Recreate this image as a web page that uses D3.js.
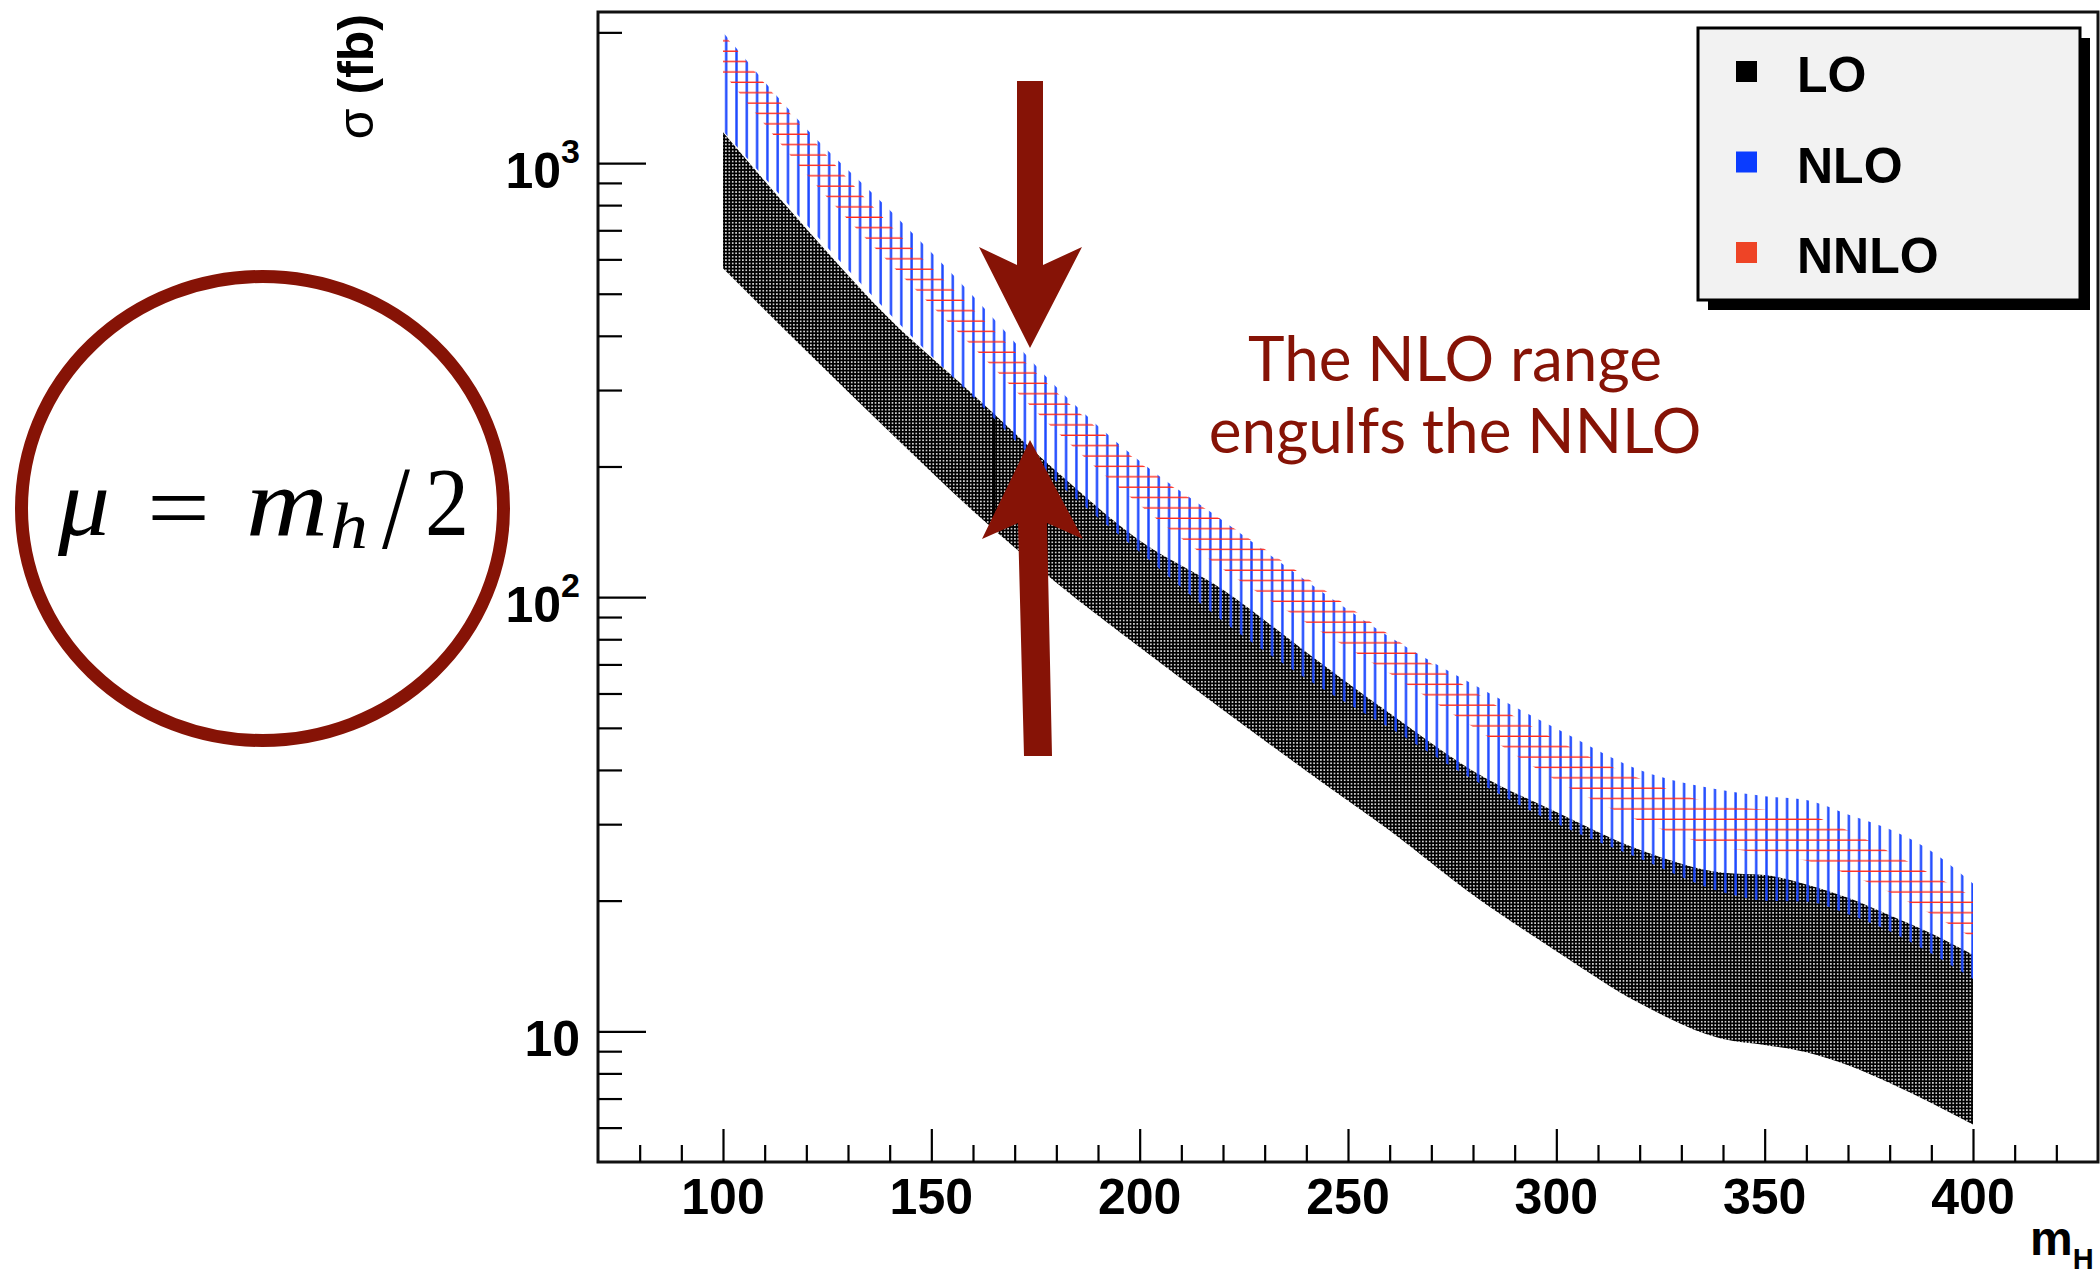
<!DOCTYPE html>
<html>
<head>
<meta charset="utf-8">
<script src="https://cdn.jsdelivr.net/npm/d3@7"></script>
<style>
  body { margin: 0; background: #fff; }
  svg { display: block; }
</style>
</head>
<body>
<div id="chart"></div>
<script>
const massH = [100, 120, 140, 160, 180, 200, 220, 240, 260, 280, 300, 320, 340, 350, 360, 370, 380, 390, 400];

// cross-section bands, sigma in fb
const loHigh   = [1177, 706, 437, 293, 195, 135, 104, 74.7, 54, 39.8, 32, 26.2, 23.2, 22.9, 21.8, 20.3, 18.5, 16.8, 15.0];
const loLow    = [572, 369, 240, 158, 108, 76.7, 55, 39.8, 29.0, 20.6, 15.3, 11.6, 9.6, 9.3, 8.95, 8.35, 7.6, 6.84, 6.1];
const nloHigh  = [2000, 1200, 780, 494, 305, 206, 150, 109, 81, 63, 49.8, 40, 35.9, 34.8, 34.1, 31.6, 29.2, 26, 21.9];
const nloLow   = [1185, 722, 449, 289, 185, 127, 88, 64.9, 50, 38, 30.1, 25, 20.9, 20, 19.9, 18.6, 17, 15.1, 13.2];
const nnloHigh = [1990, 1177, 721, 460, 297, 204, 150, 111, 81.8, 60.8, 46.9, 38.2, 33.1, 32.4, 31.6, 29, 25.9, 23, 20.4];
const nnloLow  = [1615, 944, 588, 377, 241, 163, 116, 87.3, 66.7, 50.2, 37.8, 30.5, 26.5, 25.7, 24.7, 23, 20.9, 18.6, 16.4];

// mass where the LO band shows a dark vertical seam
const kinkMass = 165;

const xMajor = [100, 150, 200, 250, 300, 350, 400];
const xMinor = d3.range(80, 430, 10).filter(v => v % 50 !== 0);
const yMajor = [10, 100, 1000];
const yMinor = [6, 7, 8, 9, 20, 30, 40, 50, 60, 70, 80, 90, 200, 300, 400, 500, 600, 700, 800, 900, 2000];
const yLabels = [{ v: 10, exp: "" }, { v: 100, exp: "2" }, { v: 1000, exp: "3" }];

const legendNames = ["LO", "NLO", "NNLO"];
const legendColors = ["#000000", "#0a3cff", "#ee4426"];
const noteLines = ["The NLO range", "engulfs the NNLO"];

const W = 2100, H = 1277;
const frame = { left: 598, right: 2098, top: 12, bottom: 1162 };
const darkRed = "#861306";

const x = d3.scaleLinear().domain([70, 430]).range([frame.left, frame.right]);
const y = d3.scaleLog().domain([5, 2228]).range([frame.bottom, frame.top]);

const svg = d3.select("#chart")
    .append("svg")
    .attr("width", W)
    .attr("height", H);

const defs = svg.append("defs");

// LO: dense black stipple
const pLo = defs.append("pattern")
    .attr("id", "loDots")
    .attr("patternUnits", "userSpaceOnUse")
    .attr("width", 3.4).attr("height", 3.4);
pLo.append("rect").attr("width", 3.4).attr("height", 3.4).attr("fill", "#000");
pLo.append("circle").attr("cx", 1.7).attr("cy", 1.7).attr("r", 0.9).attr("fill", "#fff");

// NLO: vertical blue hatching
const pNlo = defs.append("pattern")
    .attr("id", "nloHatch")
    .attr("patternUnits", "userSpaceOnUse")
    .attr("width", 10.3).attr("height", 20);
pNlo.append("rect").attr("x", 4).attr("y", 0).attr("width", 2.4).attr("height", 20).attr("fill", "#1c48ff");

// NNLO: horizontal red hatching
const pNnlo = defs.append("pattern")
    .attr("id", "nnloHatch")
    .attr("patternUnits", "userSpaceOnUse")
    .attr("width", 20).attr("height", 10.38);
pNnlo.append("rect").attr("x", 0).attr("y", 9.0).attr("width", 20).attr("height", 2.4).attr("fill", "#ff2a1c");

const bandArea = (low, high) => d3.area()
    .x((d, i) => x(massH[i]))
    .y0((d, i) => y(low[i]))
    .y1((d, i) => y(high[i]))
    .curve(d3.curveMonotoneX)(massH);

const plot = svg.append("g");

// LO band
plot.append("path")
    .attr("d", bandArea(loLow, loHigh))
    .attr("fill", "url(#loDots)");

// seam in the LO band, read at kinkMass by log interpolation
function logInterp(arr, m) {
    const i = Math.min(d3.bisectRight(massH, m), massH.length - 1);
    const t = (m - massH[i - 1]) / (massH[i] - massH[i - 1]);
    return Math.pow(10, Math.log10(arr[i - 1]) * (1 - t) + Math.log10(arr[i]) * t);
}
plot.append("line")
    .attr("x1", x(kinkMass)).attr("x2", x(kinkMass))
    .attr("y1", y(logInterp(loLow, kinkMass)))
    .attr("y2", y(logInterp(loHigh, kinkMass)))
    .attr("stroke", "#000")
    .attr("stroke-width", 2.5);

// NLO band
plot.append("path")
    .attr("d", bandArea(nloLow, nloHigh))
    .attr("fill", "url(#nloHatch)");

// NNLO band
plot.append("path")
    .attr("d", bandArea(nnloLow, nnloHigh))
    .attr("fill", "url(#nnloHatch)");

// frame
svg.append("rect")
    .attr("x", frame.left).attr("y", frame.top)
    .attr("width", frame.right - frame.left)
    .attr("height", frame.bottom - frame.top)
    .attr("fill", "none")
    .attr("stroke", "#111")
    .attr("stroke-width", 3);

// ticks drawn inside the frame
function tickAxis(axis, tx, ty) {
    svg.append("g")
        .attr("transform", `translate(${tx},${ty})`)
        .call(axis)
        .call(g => g.select(".domain").remove())
        .call(g => g.selectAll(".tick line").attr("stroke", "#000").attr("stroke-width", 2.2))
        .call(g => g.selectAll(".tick text").remove());
}
tickAxis(d3.axisRight(y).tickValues(yMajor).tickSize(48), frame.left, 0);
tickAxis(d3.axisRight(y).tickValues(yMinor).tickSize(24), frame.left, 0);
tickAxis(d3.axisTop(x).tickValues(xMajor).tickSize(33), 0, frame.bottom);
tickAxis(d3.axisTop(x).tickValues(xMinor).tickSize(17), 0, frame.bottom);

// X tick labels
svg.append("g")
    .selectAll("text")
    .data(xMajor)
    .join("text")
    .attr("x", d => x(d))
    .attr("y", 1214)
    .attr("text-anchor", "middle")
    .attr("font-family", "Liberation Sans, Arial, sans-serif")
    .attr("font-weight", "bold")
    .attr("font-size", 50)
    .text(d => d);

// Y tick labels with exponents
const yl = svg.append("g")
    .selectAll("text")
    .data(yLabels)
    .join("text")
    .attr("x", 580)
    .attr("y", d => y(d.v) + 25)
    .attr("text-anchor", "end")
    .attr("font-family", "Liberation Sans, Arial, sans-serif")
    .attr("font-weight", "bold")
    .attr("font-size", 50);
yl.append("tspan").text("10");
yl.filter(d => d.exp).append("tspan")
    .attr("dy", -25)
    .attr("font-size", 34)
    .text(d => d.exp);

// axis titles
const yTitle = svg.append("text")
    .attr("transform", "translate(373,14) rotate(-90)")
    .attr("text-anchor", "end")
    .attr("font-family", "Liberation Sans, Arial, sans-serif")
    .attr("font-size", 50);
yTitle.append("tspan").text("σ ");
yTitle.append("tspan").attr("font-weight", "bold").text("(fb)");

const xTitle = svg.append("text")
    .attr("x", 2030)
    .attr("y", 1255)
    .attr("font-family", "Liberation Sans, Arial, sans-serif")
    .attr("font-weight", "bold")
    .attr("font-size", 48);
xTitle.append("tspan").text("m");
xTitle.append("tspan").attr("dy", 14).attr("font-size", 29).text("H");

// legend
const legend = svg.append("g");
legend.append("rect")
    .attr("x", 1708).attr("y", 38)
    .attr("width", 382).attr("height", 272)
    .attr("fill", "#000");
legend.append("rect")
    .attr("x", 1698).attr("y", 28)
    .attr("width", 382).attr("height", 272)
    .attr("fill", "#f2f2f2")
    .attr("stroke", "#000")
    .attr("stroke-width", 3);
const entries = legend.selectAll("g.entry")
    .data(legendNames)
    .join("g")
    .attr("class", "entry")
    .attr("transform", (d, i) => `translate(0,${i * 90.5})`);
entries.append("rect")
    .attr("x", 1736).attr("y", 61)
    .attr("width", 21).attr("height", 21)
    .attr("fill", (d, i) => legendColors[i]);
entries.append("text")
    .attr("x", 1797).attr("y", 92)
    .attr("font-family", "Liberation Sans, Arial, sans-serif")
    .attr("font-weight", "bold")
    .attr("font-size", 50)
    .text(d => d);

// annotation text
svg.append("g")
    .selectAll("text")
    .data(noteLines)
    .join("text")
    .attr("x", 1455)
    .attr("y", (d, i) => 381 + i * 72)
    .attr("text-anchor", "middle")
    .attr("font-family", "Lato, 'Open Sans', sans-serif")
    .attr("font-size", 62)
    .attr("fill", darkRed)
    .text(d => d);

// arrows
const downArrow = [[1017, 81], [1043, 81], [1043, 265], [1082, 247], [1030, 348], [979, 247], [1017, 265]];
const upArrow = [[1030, 440], [1083, 539], [1047, 523], [1052, 756], [1024, 756], [1018, 523], [982, 539]];
svg.selectAll("path.arrow")
    .data([downArrow, upArrow])
    .join("path")
    .attr("class", "arrow")
    .attr("d", d => d3.line()(d) + "Z")
    .attr("fill", darkRed);

// circled scale choice
svg.append("ellipse")
    .attr("cx", 262.5).attr("cy", 508.5)
    .attr("rx", 241).attr("ry", 232)
    .attr("fill", "none")
    .attr("stroke", darkRed)
    .attr("stroke-width", 13);

// mu = m_h / 2, one glyph per text so each can be sized to the picture
const mathGlyphs = [
    { t: "μ", x: 58,  y: 535, size: 98,  italic: true,  len: 52 },
    { t: "=", x: 147, y: 540, size: 98,  italic: false, len: 63 },
    { t: "m", x: 246, y: 535, size: 98,  italic: true,  len: 82 },
    { t: "h", x: 330, y: 548, size: 66,  italic: true,  len: 38 },
    { t: "/", x: 382, y: 548, size: 118, italic: false, len: 28 },
    { t: "2", x: 425, y: 535, size: 98,  italic: false, len: 44 }
];
svg.append("g")
    .selectAll("text")
    .data(mathGlyphs)
    .join("text")
    .attr("x", d => d.x)
    .attr("y", d => d.y)
    .attr("font-family", "Liberation Serif, 'DejaVu Serif', serif")
    .attr("font-size", d => d.size)
    .attr("font-style", d => d.italic ? "italic" : "normal")
    .attr("textLength", d => d.len)
    .attr("lengthAdjust", "spacingAndGlyphs")
    .attr("fill", "#000")
    .text(d => d.t);
</script>
</body>
</html>
